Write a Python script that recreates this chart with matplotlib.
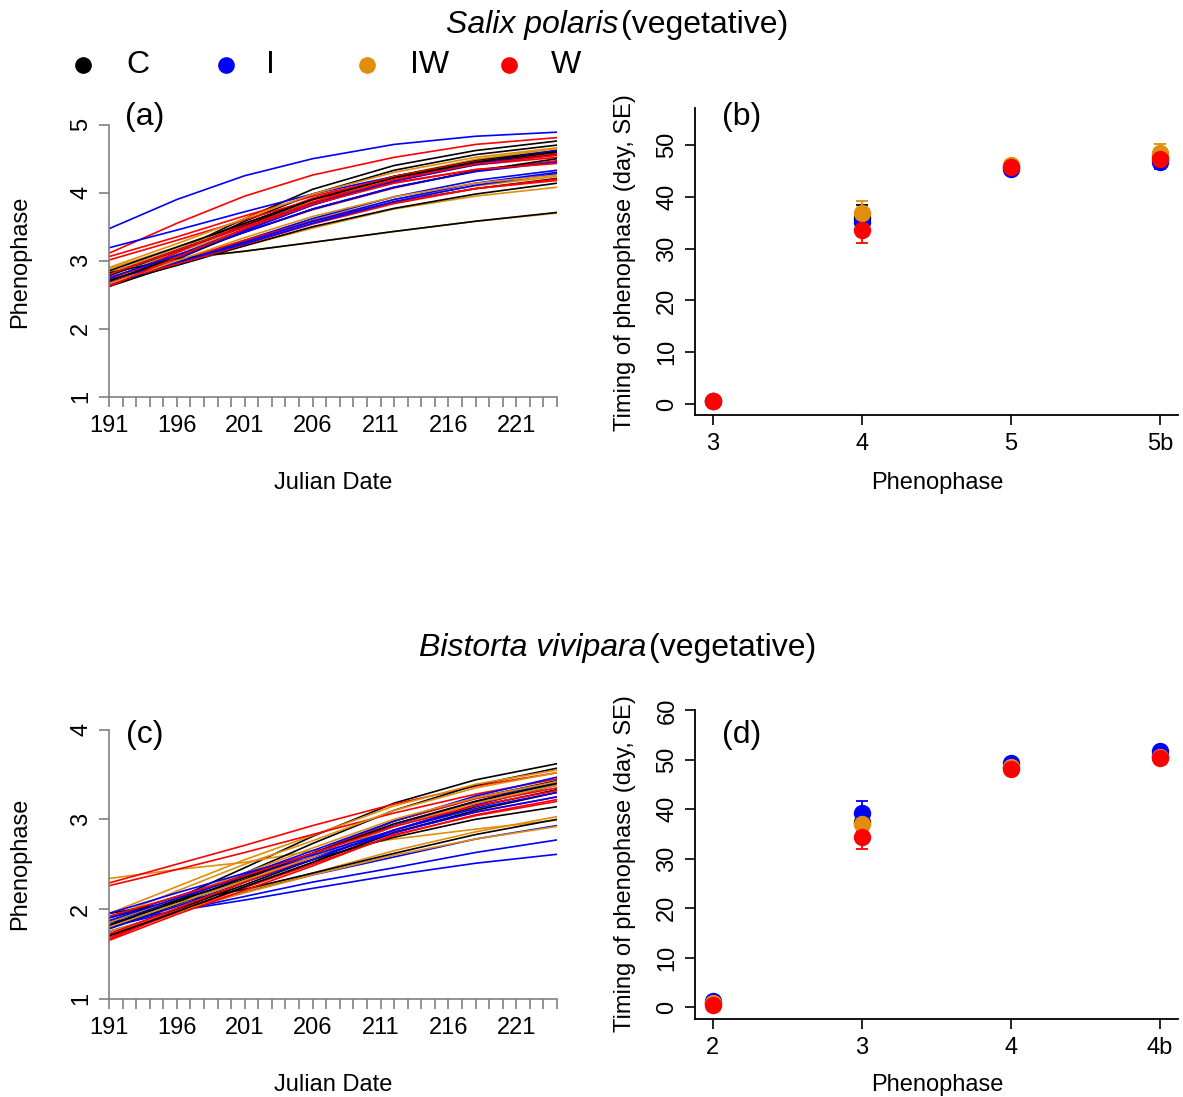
import matplotlib
matplotlib.use("Agg")
import matplotlib.pyplot as plt
from matplotlib.lines import Line2D

plt.rcParams['font.family'] = ['Liberation Sans', 'DejaVu Sans']

W, H = 1183, 1097
DPI = 100

# treatments and colours
treatments = ['C', 'I', 'IW', 'W']
colors = {'C': '#000000', 'I': '#0000FF', 'IW': '#E08E0B', 'W': '#FF0000'}

# julian dates at which the fitted curves are read
dates = [191, 196, 201, 206, 212, 218, 224]

# Salix polaris, fitted phenophase curves (one row per plot)
salix_curves = {
    'C': [[2.65, 3.15, 3.62, 4.05, 4.40, 4.62, 4.76],
          [2.68, 3.12, 3.58, 3.98, 4.33, 4.56, 4.70],
          [2.72, 3.12, 3.52, 3.90, 4.24, 4.47, 4.62],
          [2.78, 3.15, 3.50, 3.85, 4.18, 4.42, 4.58],
          [2.62, 2.95, 3.28, 3.58, 3.86, 4.06, 4.21],
          [2.66, 2.93, 3.22, 3.50, 3.77, 3.98, 4.14],
          [2.82, 3.03, 3.14, 3.27, 3.43, 3.58, 3.71],
          [2.85, 3.20, 3.55, 3.90, 4.22, 4.45, 4.60],
          [2.70, 3.05, 3.42, 3.76, 4.08, 4.32, 4.50]],
    'I': [[3.47, 3.90, 4.25, 4.50, 4.71, 4.83, 4.89],
          [3.19, 3.45, 3.72, 3.98, 4.24, 4.44, 4.58],
          [2.62, 3.02, 3.44, 3.82, 4.17, 4.41, 4.56],
          [2.70, 3.08, 3.46, 3.82, 4.17, 4.43, 4.60],
          [2.80, 3.15, 3.50, 3.84, 4.18, 4.44, 4.62],
          [2.65, 2.97, 3.30, 3.62, 3.94, 4.18, 4.33],
          [2.68, 2.96, 3.27, 3.58, 3.90, 4.14, 4.30],
          [2.72, 2.98, 3.25, 3.55, 3.87, 4.11, 4.28],
          [2.75, 3.08, 3.42, 3.76, 4.08, 4.31, 4.45]],
    'IW': [[2.88, 3.20, 3.55, 3.90, 4.24, 4.49, 4.65],
           [2.82, 3.17, 3.52, 3.87, 4.21, 4.46, 4.62],
           [2.78, 3.12, 3.47, 3.83, 4.18, 4.43, 4.60],
           [2.70, 3.00, 3.30, 3.60, 3.90, 4.10, 4.24],
           [2.75, 2.97, 3.22, 3.48, 3.76, 3.95, 4.08],
           [2.84, 3.02, 3.14, 3.27, 3.43, 3.58, 3.70],
           [2.90, 3.25, 3.62, 3.98, 4.30, 4.52, 4.66],
           [2.66, 3.00, 3.34, 3.65, 3.94, 4.14, 4.26]],
    'W': [[3.11, 3.55, 3.95, 4.26, 4.52, 4.71, 4.81],
          [3.06, 3.35, 3.66, 3.95, 4.22, 4.41, 4.52],
          [3.01, 3.30, 3.60, 3.90, 4.15, 4.34, 4.45],
          [2.70, 3.12, 3.54, 3.92, 4.24, 4.46, 4.58],
          [2.74, 3.08, 3.42, 3.75, 4.07, 4.32, 4.47],
          [2.72, 3.00, 3.30, 3.58, 3.86, 4.06, 4.18],
          [2.68, 2.95, 3.24, 3.54, 3.84, 4.06, 4.20],
          [2.80, 3.15, 3.50, 3.86, 4.19, 4.42, 4.55],
          [2.62, 3.05, 3.47, 3.83, 4.14, 4.34, 4.43]],
}

# Bistorta vivipara, fitted phenophase curves
bistorta_curves = {
    'C': [[1.80, 2.12, 2.46, 2.81, 3.18, 3.44, 3.62],
          [1.85, 2.10, 2.40, 2.73, 3.10, 3.38, 3.57],
          [1.78, 2.05, 2.33, 2.62, 2.98, 3.24, 3.43],
          [1.72, 2.00, 2.27, 2.55, 2.88, 3.14, 3.33],
          [1.90, 2.10, 2.32, 2.55, 2.80, 3.00, 3.14],
          [1.95, 2.08, 2.22, 2.40, 2.62, 2.83, 3.00],
          [1.70, 1.97, 2.25, 2.52, 2.85, 3.10, 3.30],
          [1.82, 2.08, 2.35, 2.62, 2.95, 3.20, 3.40]],
    'I': [[1.85, 1.98, 2.10, 2.23, 2.38, 2.51, 2.61],
          [1.80, 1.98, 2.14, 2.30, 2.46, 2.63, 2.77],
          [1.75, 1.97, 2.19, 2.38, 2.58, 2.78, 2.93],
          [1.82, 2.10, 2.38, 2.65, 2.98, 3.26, 3.47],
          [1.90, 2.14, 2.38, 2.62, 2.93, 3.20, 3.42],
          [1.78, 2.03, 2.30, 2.55, 2.88, 3.16, 3.38],
          [1.87, 2.12, 2.36, 2.58, 2.85, 3.08, 3.25],
          [1.95, 2.18, 2.40, 2.60, 2.88, 3.12, 3.30]],
    'IW': [[2.34, 2.44, 2.52, 2.65, 2.78, 2.89, 2.99],
           [1.95, 2.25, 2.55, 2.82, 3.15, 3.39, 3.55],
           [1.90, 2.20, 2.50, 2.76, 3.10, 3.35, 3.52],
           [1.72, 1.98, 2.20, 2.40, 2.65, 2.86, 3.03],
           [1.75, 1.97, 2.18, 2.38, 2.60, 2.78, 2.92],
           [1.85, 2.12, 2.40, 2.68, 3.00, 3.24, 3.42],
           [1.80, 2.06, 2.32, 2.58, 2.92, 3.18, 3.38]],
    'W': [[2.29, 2.50, 2.71, 2.93, 3.17, 3.37, 3.52],
          [2.26, 2.44, 2.63, 2.83, 3.07, 3.28, 3.45],
          [1.66, 1.98, 2.30, 2.62, 2.98, 3.23, 3.40],
          [1.68, 1.96, 2.24, 2.52, 2.86, 3.08, 3.25],
          [1.70, 1.98, 2.24, 2.50, 2.82, 3.05, 3.22],
          [1.72, 2.01, 2.30, 2.58, 2.92, 3.18, 3.35],
          [1.65, 1.94, 2.21, 2.48, 2.83, 3.04, 3.20],
          [1.92, 2.14, 2.37, 2.62, 2.92, 3.15, 3.32]],
}

# timing of phenophases (day, SE)
salix_phases = ['3', '4', '5', '5b']
salix_mean = {'C': [0.5, 36.0, 45.8, 47.6],
              'I': [0.5, 35.2, 45.4, 46.8],
              'IW': [0.6, 36.8, 46.1, 48.4],
              'W': [0.6, 33.5, 45.8, 47.3]}
salix_se = {'C': [0.1, 2.4, 0.4, 1.0],
            'I': [0.1, 1.5, 0.4, 1.5],
            'IW': [0.1, 2.3, 0.5, 1.7],
            'W': [0.1, 2.5, 0.5, 1.5]}

bistorta_phases = ['2', '3', '4', '4b']
bistorta_mean = {'C': [0.8, 37.5, 48.6, 50.8],
                 'I': [1.2, 39.2, 49.4, 51.8],
                 'IW': [0.8, 37.1, 48.5, 50.6],
                 'W': [0.4, 34.4, 48.1, 50.3]}
bistorta_se = {'C': [0.2, 2.0, 0.5, 0.6],
               'I': [0.2, 2.5, 0.5, 0.5],
               'IW': [0.2, 2.6, 0.5, 0.6],
               'W': [0.2, 2.5, 0.5, 0.5]}

FS = 17
BIG = 23


def fx(px):
    return px / W


def fy(py):
    return 1 - py / H


def axes_px(x0, y0, x1, y1):
    return fig.add_axes([fx(x0), fy(y1), (x1 - x0) / W, (y1 - y0) / H])


def curve_panel(ax, curves, ymax):
    n = max(len(v) for v in curves.values())
    for i in range(n):
        for t in treatments:
            if i < len(curves[t]):
                ax.plot(dates, curves[t][i], color=colors[t], lw=1.2, solid_joinstyle='round')
    ax.set_xlim(191, 224)
    ax.set_ylim(1, ymax)
    for s in ['top', 'right']:
        ax.spines[s].set_visible(False)
    for s in ['left', 'bottom']:
        ax.spines[s].set_color('#808080')
        ax.spines[s].set_linewidth(1.2)
    ax.set_xticks(list(range(191, 222, 5)))
    ax.set_xticks(list(range(191, 225)), minor=True)
    ax.set_yticks(list(range(1, ymax + 1)))
    ax.set_yticklabels([str(v) for v in range(1, ymax + 1)], rotation=90, va='center')
    ax.tick_params(which='both', direction='out', length=7, width=1.2, color='#808080',
                   labelsize=FS, pad=5)
    ax.tick_params(axis='x', which='major', pad=6)


def point_panel(ax, phases, mean, se, ylim, yticks):
    xs = list(range(1, len(phases) + 1))
    for t in treatments:
        ax.errorbar(xs, mean[t], yerr=se[t], fmt='o', color=colors[t], ms=11.5,
                    elinewidth=1.3, capsize=4, capthick=1.3)
    ax.set_xlim(0.88, 4.12)
    ax.set_ylim(*ylim)
    ax.set_xticks(xs)
    ax.set_xticklabels(phases)
    ax.set_yticks(yticks)
    ax.set_yticklabels([str(v) for v in yticks], rotation=90, va='center')
    for s in ['top', 'right']:
        ax.spines[s].set_visible(False)
    for s in ['left', 'bottom']:
        ax.spines[s].set_linewidth(1.3)
    ax.tick_params(direction='out', length=7, width=1.2, labelsize=FS, pad=5)
    ax.tick_params(axis='x', pad=6)


fig = plt.figure(figsize=(W / DPI, H / DPI), dpi=DPI)

# panel (a)
ax_a = axes_px(109, 124.7, 557, 396.7)
curve_panel(ax_a, salix_curves, 5)

# panel (c)
ax_c = axes_px(109, 729.6, 557, 998.7)
curve_panel(ax_c, bistorta_curves, 4)

# panel (b)
ax_b = axes_px(695, 107.7, 1178, 415.4)
point_panel(ax_b, salix_phases, salix_mean, salix_se, (-2.2, 57.2), [0, 10, 20, 30, 40, 50])

# panel (d)
ax_d = axes_px(695, 710, 1178, 1018.6)
point_panel(ax_d, bistorta_phases, bistorta_mean, bistorta_se, (-2.35, 60.1),
            [0, 10, 20, 30, 40, 50, 60])

# axis labels
for yy in [483, 1085]:
    fig.text(fx(333), fy(yy), 'Julian Date', fontsize=FS, ha='center', va='center')
    fig.text(fx(937), fy(yy), 'Phenophase', fontsize=FS, ha='center', va='center')
fig.text(fx(20), fy(262), 'Phenophase', fontsize=FS, ha='center', va='center', rotation=90)
fig.text(fx(20), fy(864), 'Phenophase', fontsize=FS, ha='center', va='center', rotation=90)
fig.text(fx(625), fy(263), 'Timing of phenophase (day, SE)', fontsize=FS,
         ha='center', va='center', rotation=90)
fig.text(fx(625), fy(864), 'Timing of phenophase (day, SE)', fontsize=FS,
         ha='center', va='center', rotation=90)

# panel letters
for lab, px, py in [('(a)', 145, 117), ('(b)', 742, 117), ('(c)', 145, 735), ('(d)', 742, 735)]:
    fig.text(fx(px), fy(py), lab, fontsize=BIG, ha='center', va='center')

# species titles
fig.text(fx(618), fy(25), 'Salix polaris', fontsize=BIG, style='italic', ha='right', va='center')
fig.text(fx(621), fy(25), '(vegetative)', fontsize=BIG, ha='left', va='center')
fig.text(fx(646), fy(648), 'Bistorta vivipara', fontsize=BIG, style='italic', ha='right', va='center')
fig.text(fx(649), fy(648), '(vegetative)', fontsize=BIG, ha='left', va='center')

# legend along the top
leg_dot_x = [83, 226, 367, 509]
leg_txt_x = [126, 266, 410, 551]
for t, dx, tx in zip(treatments, leg_dot_x, leg_txt_x):
    fig.add_artist(Line2D([fx(dx)], [fy(65)], marker='o', ms=11, color=colors[t],
                          linestyle='none', transform=fig.transFigure))
    fig.text(fx(tx), fy(65), t, fontsize=BIG, ha='left', va='center')

fig.savefig('out.png', dpi=DPI)
